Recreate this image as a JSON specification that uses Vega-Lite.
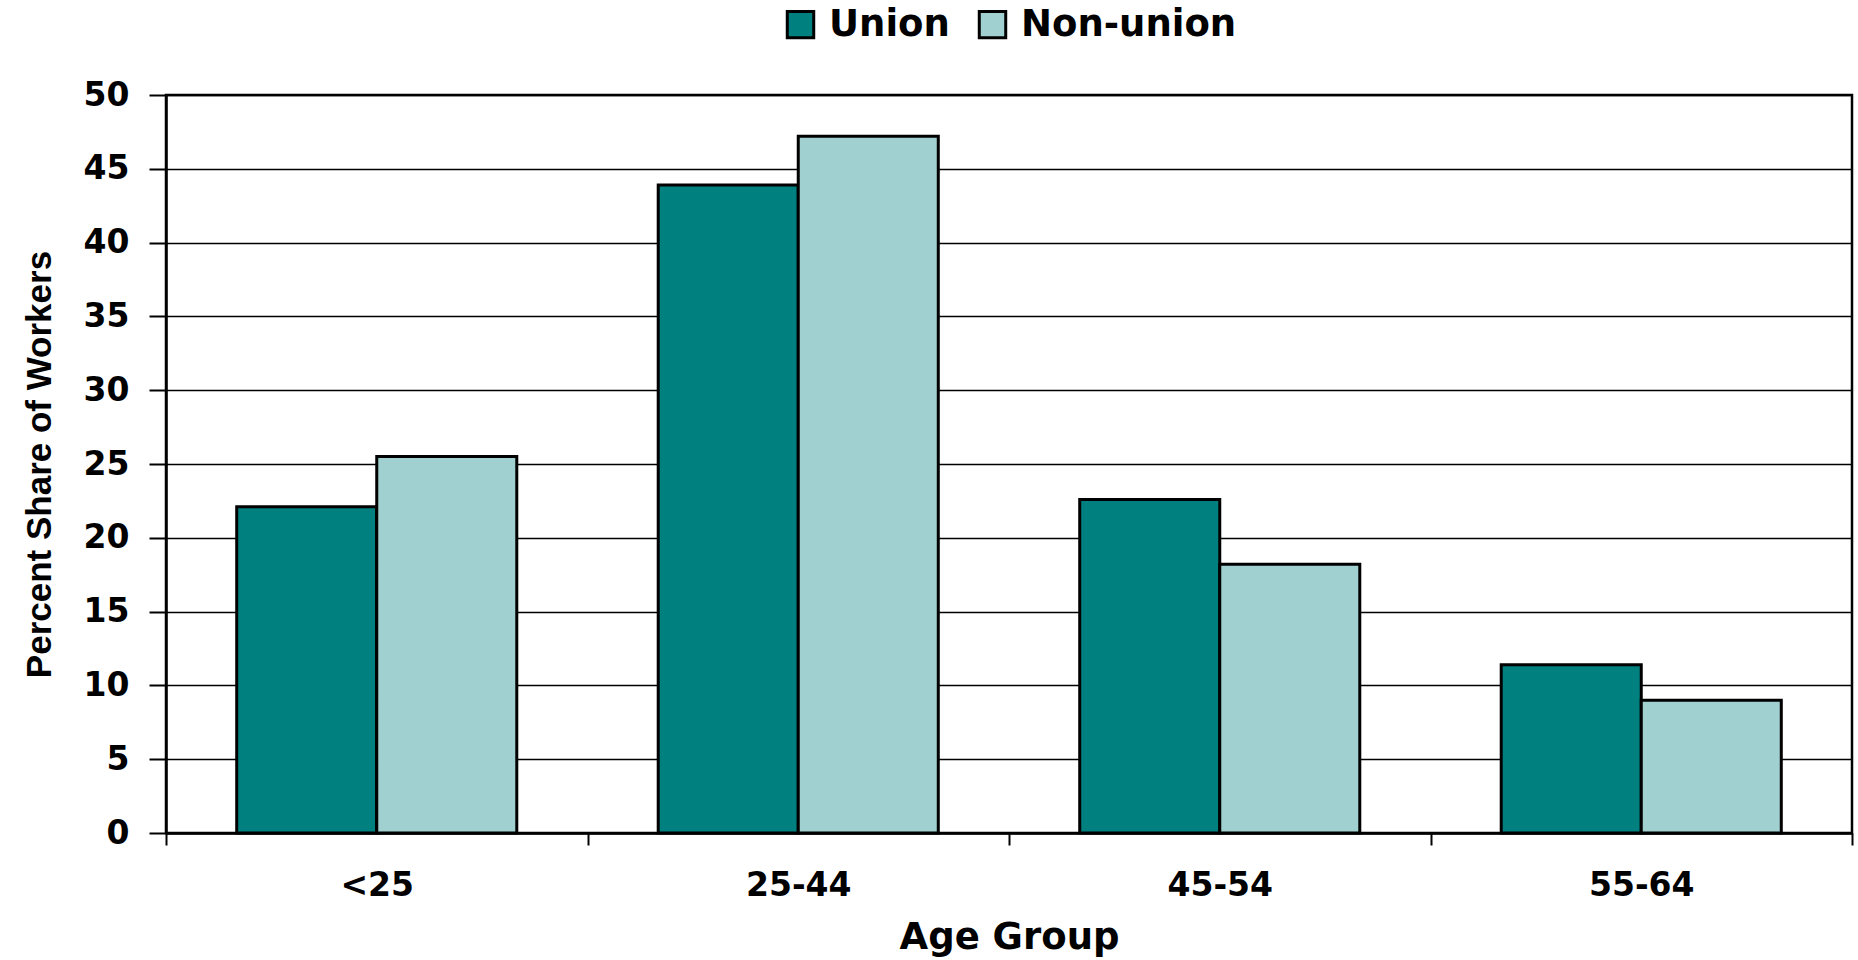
{
  "$schema": "https://vega.github.io/schema/vega-lite/v6.json",
  "autosize": {"type": "none"},
  "padding": {"left": 166, "top": 95, "right": 6, "bottom": 127},
  "width": 1686,
  "height": 738,
  "background": "white",
  "config": {
    "view": {"stroke": "black", "strokeWidth": 2.5},
    "axis": {"labelFont": "DejaVu Sans", "labelFontWeight": "bold", "titleFont": "DejaVu Sans", "titleFontWeight": "bold", "labelColor": "black", "titleColor": "black"}
  },
  "data": {
    "values": [
      {"age": "<25", "type": "Union", "share": 22.1},
      {"age": "<25", "type": "Non-union", "share": 25.5},
      {"age": "25-44", "type": "Union", "share": 43.9},
      {"age": "25-44", "type": "Non-union", "share": 47.2},
      {"age": "45-54", "type": "Union", "share": 22.6},
      {"age": "45-54", "type": "Non-union", "share": 18.2},
      {"age": "55-64", "type": "Union", "share": 11.4},
      {"age": "55-64", "type": "Non-union", "share": 9.0}
    ]
  },
  "mark": {"type": "bar", "stroke": "black", "strokeWidth": 3, "cornerRadius": 0},
  "encoding": {
    "x": {
      "field": "age", "type": "nominal", "sort": ["<25", "25-44", "45-54", "55-64"],
      "scale": {"paddingInner": 0, "paddingOuter": 0},
      "axis": {
        "title": "Age Group", "titleFontSize": 37, "titlePadding": 17,
        "labelAngle": 0, "labelFontSize": 33, "labelPadding": 24,
        "tickBand": "extent", "tickColor": "black", "tickWidth": 2, "tickSize": 12,
        "domainColor": "black", "domainWidth": 2.5
      }
    },
    "xOffset": {"field": "type", "sort": ["Union", "Non-union"], "scale": {"paddingInner": 0, "paddingOuter": 0.505}},
    "y": {
      "field": "share", "type": "quantitative",
      "scale": {"domain": [0, 50], "nice": false},
      "axis": {
        "title": "Percent Share of Workers", "titleFont": "Liberation Sans", "titleFontSize": 35, "titlePadding": 26,
        "values": [0, 5, 10, 15, 20, 25, 30, 35, 40, 45, 50],
        "labelFontSize": 33, "labelPadding": 20,
        "grid": true, "gridColor": "black", "gridWidth": 1.5, "gridOpacity": 1,
        "tickColor": "black", "tickWidth": 2, "tickSize": 17,
        "domainColor": "black", "domainWidth": 2.5
      }
    },
    "color": {
      "field": "type", "type": "nominal",
      "scale": {"domain": ["Union", "Non-union"], "range": ["#018080", "#A1D0D0"]},
      "legend": {
        "title": null, "orient": "none", "direction": "horizontal",
        "legendX": 616, "legendY": -89,
        "symbolType": "square", "symbolSize": 700, "symbolStrokeColor": "black", "symbolStrokeWidth": 3, "symbolOpacity": 1,
        "labelFont": "DejaVu Sans", "labelFontWeight": "bold", "labelFontSize": 37, "labelColor": "black", "labelLimit": 500,
        "labelOffset": 10, "columnPadding": 23
      }
    }
  }
}
